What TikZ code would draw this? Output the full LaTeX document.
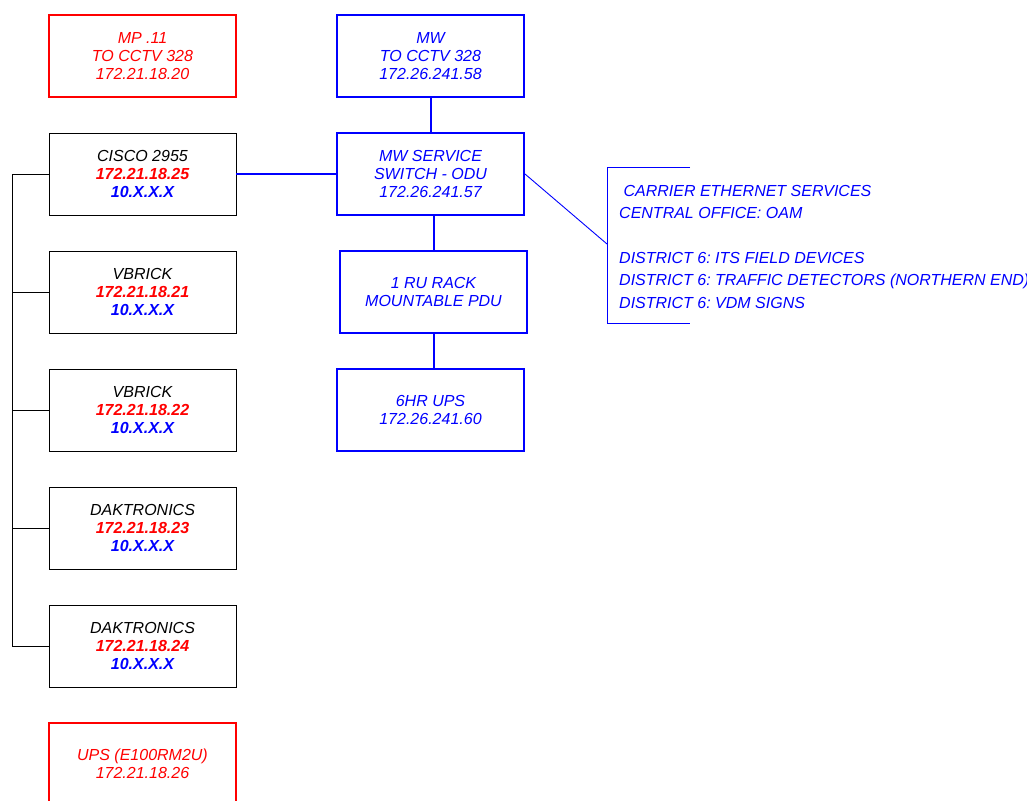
\documentclass[tikz,border=0pt]{standalone}
\usepackage{fontspec}
\setmainfont{Liberation Sans}
\frenchspacing
\definecolor{mred}{RGB}{255,0,0}
\definecolor{mblue}{RGB}{0,0,255}
\begin{document}
\begin{tikzpicture}[x=1pt,y=-1pt,
  box/.style={draw,minimum width=187pt,minimum height=82pt,inner sep=0pt,align=center,
    font=\fontsize{16}{18.4}\selectfont\itshape},
  redbox/.style={box,draw=mred,line width=2pt,text=mred},
  bluebox/.style={box,draw=mblue,line width=2pt,text=mblue},
  blackbox/.style={box,draw=black,line width=0.9pt,text=black},
  bus/.style={draw=black,line width=0.9pt},
  bline/.style={draw=mblue,line width=2pt},
  thinb/.style={draw=mblue,line width=0.9pt},
  svc/.style={anchor=base west,inner sep=0pt,text=mblue,font=\fontsize{16}{18.4}\selectfont\itshape}
]
\useasboundingbox (0,0) rectangle (1027,800);
\begin{scope}
\clip (0,0) rectangle (1027,800);
% left column
\node[redbox] (mp) at (142.5,56) {MP .11\\TO CCTV 328\\172.21.18.20};
\node[blackbox] (cisco) at (142.5,174) {CISCO 2955\\\textcolor{mred}{\bfseries 172.21.18.25}\\\textcolor{mblue}{\bfseries 10.X.X.X}};
\node[blackbox] (vb1) at (142.5,292) {VBRICK\\\textcolor{mred}{\bfseries 172.21.18.21}\\\textcolor{mblue}{\bfseries 10.X.X.X}};
\node[blackbox] (vb2) at (142.5,410) {VBRICK\\\textcolor{mred}{\bfseries 172.21.18.22}\\\textcolor{mblue}{\bfseries 10.X.X.X}};
\node[blackbox] (dk1) at (142.5,528) {DAKTRONICS\\\textcolor{mred}{\bfseries 172.21.18.23}\\\textcolor{mblue}{\bfseries 10.X.X.X}};
\node[blackbox] (dk2) at (142.5,646) {DAKTRONICS\\\textcolor{mred}{\bfseries 172.21.18.24}\\\textcolor{mblue}{\bfseries 10.X.X.X}};
\node[redbox] (ups) at (142.5,764) {UPS (E100RM2U)\\172.21.18.26};
% middle column
\node[bluebox] (mw) at (430.5,56) {MW\\TO CCTV 328\\172.26.241.58};
\node[bluebox] (sw) at (430.5,174) {MW SERVICE\\SWITCH - ODU\\172.26.241.57};
\node[bluebox] (pdu) at (433.5,292) {1 RU RACK\\MOUNTABLE PDU};
\node[bluebox] (ups6) at (430.5,410) {6HR UPS\\172.26.241.60};
% bus
\coordinate (bt) at (12,174);
\coordinate (bb) at (12,646);
\draw[bus] (cisco.west) -- (bt) -- (bb) -- (dk2.west);
\draw[bus] (vb1.west) -- (vb1.west -| bt);
\draw[bus] (vb2.west) -- (vb2.west -| bt);
\draw[bus] (dk1.west) -- (dk1.west -| bt);
% blue connectors
\draw[bline] (cisco.east) -- (sw.west);
\draw[bline] (mw.south) -- (sw.north);
\draw[bline] (pdu.north) -- (pdu.north |- sw.south);
\draw[bline] (pdu.south) -- (pdu.south |- ups6.north);
% bracket
\coordinate (k1) at (690,167);
\coordinate (k2) at (607,167);
\coordinate (k3) at (607,323);
\coordinate (k4) at (690,323);
\coordinate (kt) at (607,244);
\draw[thinb] (k1) -- (k2) -- (k3) -- (k4);
\draw[thinb] (sw.east) -- (kt);
\node[svc] (s1) at (619,196) {\hspace*{4.4pt}CARRIER ETHERNET SERVICES};
\node[svc] (s2) at (619,218.5) {CENTRAL OFFICE: OAM};
\node[svc] (s3) at (619,263) {DISTRICT 6: ITS FIELD DEVICES};
\node[svc] (s4) at (619,285.5) {DISTRICT 6: TRAFFIC DETECTORS (NORTHERN END)};
\node[svc] (s5) at (619,308) {DISTRICT 6: VDM SIGNS};
\end{scope}
\end{tikzpicture}
\end{document}
